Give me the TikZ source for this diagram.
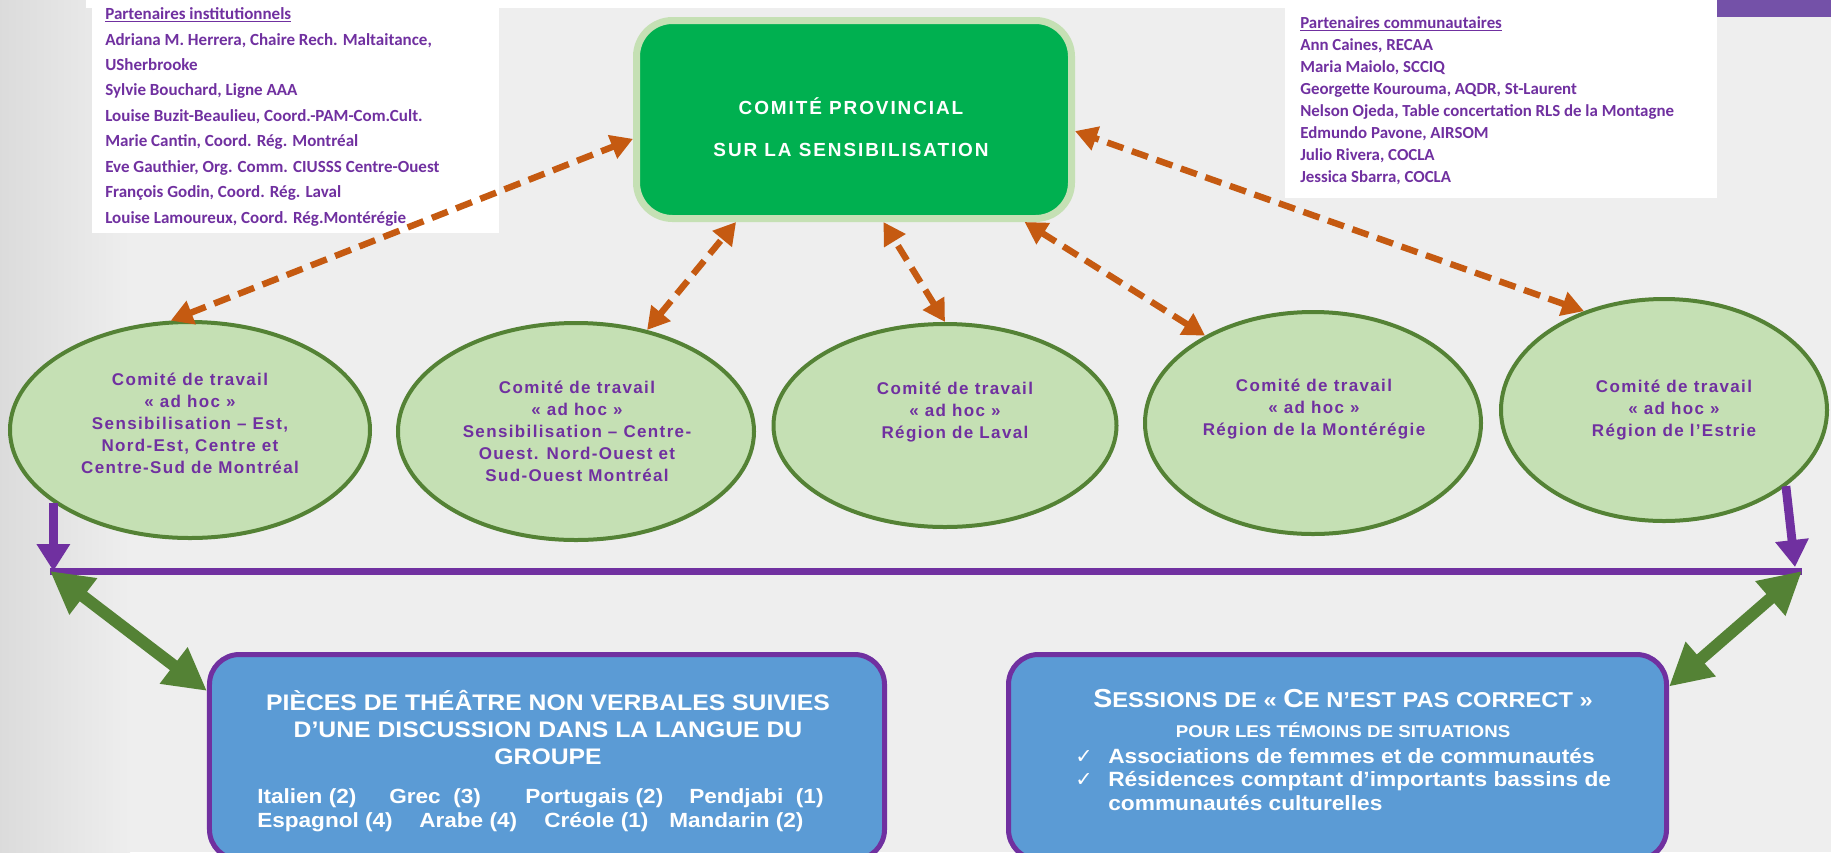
\documentclass[tikz,border=0pt]{standalone}
\usepackage{fontspec}
\setmainfont{Liberation Sans}
\newfontfamily\listefont{Carlito}
\newfontfamily\comitefont[LetterSpace=10]{Liberation Sans}
\newfontfamily\groupefont[LetterSpace=8]{Liberation Sans}
\newfontfamily\actionfont[FakeStretch=1.1]{Liberation Sans}
\newfontfamily\cochefont{DejaVu Sans}
\usetikzlibrary{shapes.geometric,arrows.meta}

\definecolor{mauve}{HTML}{7030A0}
\definecolor{vertfonce}{HTML}{548235}
\definecolor{vertclair}{HTML}{C5E0B4}
\definecolor{vertvif}{HTML}{00B050}
\definecolor{rouille}{HTML}{C55A11}
\definecolor{bleu}{HTML}{5B9BD5}
\definecolor{fond}{HTML}{EEEEEE}
\definecolor{bandeau}{HTML}{7451A8}

\newcommand{\pcap}[1]{{\fontsize{15.3}{18}\selectfont #1}}

\tikzset{
  comite/.style={rectangle, rounded corners=9mm, fill=vertvif, draw=vertclair,
    line width=1.75mm, minimum width=108.75mm, minimum height=49.5mm},
  comitetxt/.style={text=white, align=center, inner sep=0pt,
    font=\comitefont\bfseries\fontsize{13.5}{29.9}\selectfont},
  groupe/.style={ellipse, fill=vertclair, draw=vertfonce, line width=1mm, inner sep=0pt},
  groupetxt/.style={text=mauve, align=center, inner sep=0pt,
    font=\groupefont\bfseries\fontsize{12.1}{15.65}\selectfont},
  liste/.style={text=mauve, align=left, inner sep=0pt, anchor=base west},
  action/.style={rectangle, rounded corners=7.5mm, fill=bleu, draw=mauve,
    line width=1.25mm, minimum height=51.25mm},
  actiontxt/.style={text=white, inner sep=0pt, anchor=base},
  liaison/.style={draw=rouille, line width=1.6mm, dash pattern=on 4.25mm off 2.25mm,
    >={Triangle[length=5.5mm,width=6mm]}, <->},
  barre/.style={draw=mauve, line width=1.75mm},
  descente/.style={draw=mauve, line width=2.2mm, ->, >={Triangle[length=6.75mm,width=8mm]}},
  echange/.style={draw=vertfonce, line width=3mm, <->, >={Triangle[length=10.5mm,width=10.75mm]}}
}

\begin{document}
\begin{tikzpicture}[x=0.25mm, y=-0.25mm]
\useasboundingbox (0,0) rectangle (1831,852);
\fill[fond] (0,0) rectangle (1831,852);
\shade[left color=black!14, right color=fond] (0,0) rectangle (130,852);
\fill[white] (86,0) rectangle (1717,8);
\fill[white] (92,0) rectangle (499,233);
\fill[white] (1285,0) rectangle (1717,198);
\fill[bandeau] (1717,0) rectangle (1831,17);

\node[liste, font=\listefont\bfseries\fontsize{12.1}{18.1}\selectfont] (institutions) at (105,223.2)
  {\underline{Partenaires institutionnels}\\
   Adriana M. Herrera, Chaire Rech. Maltaitance,\\
   USherbrooke\\
   Sylvie Bouchard, Ligne AAA\\
   Louise Buzit-Beaulieu, Coord.-PAM-Com.Cult.\\
   Marie Cantin, Coord. Rég. Montréal\\
   Eve Gauthier, Org. Comm. CIUSSS Centre-Ouest\\
   François Godin, Coord. Rég. Laval\\
   Louise Lamoureux, Coord. Rég.Montérégie};
\node[liste, font=\listefont\bfseries\fontsize{12}{15.6}\selectfont] (communautes) at (1300,182)
  {\underline{Partenaires communautaires}\\
   Ann Caines, RECAA\\
   Maria Maiolo, SCCIQ\\
   Georgette Kourouma, AQDR, St-Laurent\\
   Nelson Ojeda, Table concertation RLS de la Montagne\\
   Edmundo Pavone, AIRSOM\\
   Julio Rivera, COCLA\\
   Jessica Sbarra, COCLA};

\node[comite] (prov) at (854,119.5) {};
\node[comitetxt] (provtxt) at (851,127) {COMITÉ PROVINCIAL\\SUR LA SENSIBILISATION};

\node[groupe, minimum width=90mm, minimum height=54mm] (e1) at (190,430) {};
\node[groupe, minimum width=89mm, minimum height=54.25mm] (e2) at (576,431.5) {};
\node[groupe, minimum width=85.75mm, minimum height=50.75mm] (e3) at (945,425.5) {};
\node[groupe, minimum width=84mm, minimum height=55.5mm] (e4) at (1313,423) {};
\node[groupe, minimum width=81.5mm, minimum height=55.5mm] (e5) at (1664,410) {};

\node[groupetxt] (t1) at (190,423) {Comité de travail\\«~ad hoc~»\\Sensibilisation – Est,\\Nord-Est, Centre et\\Centre-Sud de Montréal};
\node[groupetxt] (t2) at (577,431) {Comité de travail\\«~ad hoc~»\\Sensibilisation – Centre-\\Ouest. Nord-Ouest et\\Sud-Ouest Montréal};
\node[groupetxt] (t3) at (955,412) {Comité de travail\\«~ad hoc~»\\Région de Laval};
\node[groupetxt] (t4) at (1314,409) {Comité de travail\\«~ad hoc~»\\Région de la Montérégie};
\node[groupetxt] (t5) at (1674,410) {Comité de travail\\«~ad hoc~»\\Région de l’Estrie};

\node[action, minimum width=168.75mm] (pieces) at (547,757) {};
\node[action, minimum width=164.5mm] (sessions) at (1337.5,757) {};

\node[actiontxt, align=center, font=\actionfont\bfseries\fontsize{16}{19.2}\selectfont] (titre) at (548,764)
  {PIÈCES DE THÉÂTRE NON VERBALES SUIVIES\\D’UNE DISCUSSION DANS LA LANGUE DU\\GROUPE};
\node[actiontxt, anchor=base west, align=left, font=\actionfont\bfseries\fontsize{14.6}{17}\selectfont] (langues) at (257,827)
  {\makebox[33mm][l]{Italien (2)}\makebox[34mm][l]{Grec\ \ (3)}\makebox[41mm][l]{Portugais (2)}Pendjabi\ \ (1)\\
   \makebox[40.5mm][l]{Espagnol (4)}\makebox[31.25mm][l]{Arabe (4)}\makebox[31.25mm][l]{Créole (1)}Mandarin (2)};
\node[actiontxt, font=\actionfont\bfseries\fontsize{18.5}{22}\selectfont] (sessiontitre) at (1343,707)
  {S\pcap{ESSIONS DE «~}C\pcap{E N’EST PAS CORRECT~»}};
\node[actiontxt, font=\actionfont\bfseries\fontsize{12.1}{14}\selectfont] (temoins) at (1343,737)
  {POUR LES TÉMOINS DE SITUATIONS};
\node[actiontxt, anchor=base west, align=left, font=\actionfont\bfseries\fontsize{14.7}{16.7}\selectfont] (publics) at (1075,810)
  {\makebox[8.25mm][l]{\cochefont\mdseries ✓}Associations de femmes et de communautés\\
   \makebox[8.25mm][l]{\cochefont\mdseries ✓}Résidences comptant d’importants bassins de\\
   \makebox[8.25mm][l]{}communautés culturelles};

\draw[liaison] (e1.100) -- (prov.185);
\draw[liaison] (e2.55) -- (prov.221);
\draw[liaison] (e3.north) -- (prov.286);
\draw[liaison] (e4.141) -- (prov.329);
\draw[liaison] (e5.129) -- (prov.357);

\coordinate (barreG) at (50,571);
\coordinate (barreD) at (1802,571);
\coordinate (arriveeD) at (1795,567);
\draw[barre] (barreG) -- (barreD);
\draw[descente] (e1.208) -- (e1.208 |- barreG);
\draw[descente] (e5.328) -- (arriveeD);
\draw[echange] (barreG) -- (pieces.169);
\draw[echange] (barreD) -- (sessions.12);
\end{tikzpicture}
\end{document}
